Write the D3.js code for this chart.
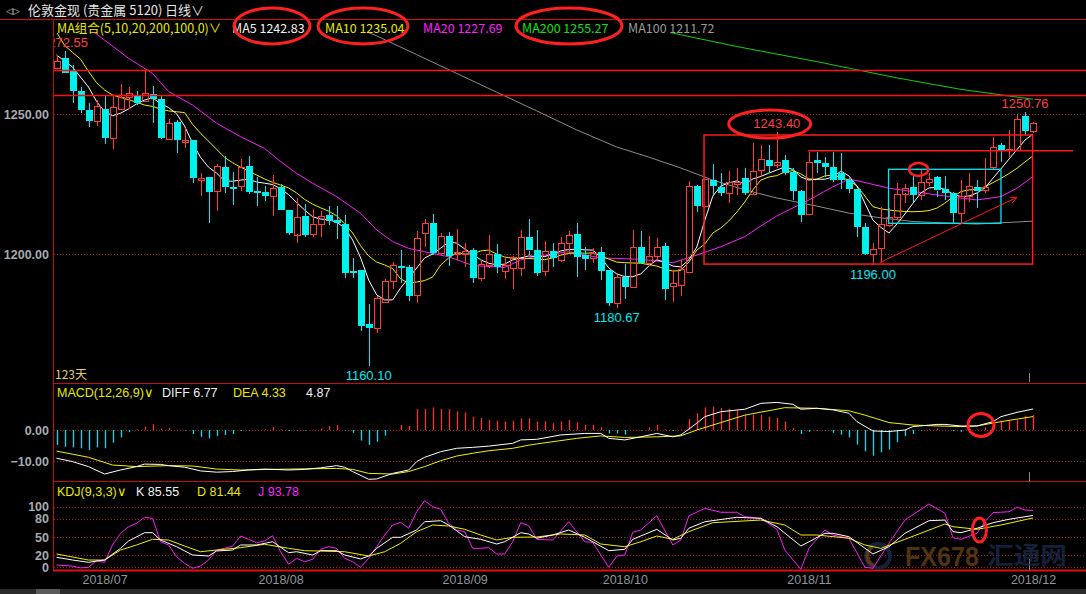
<!DOCTYPE html>
<html>
<head>
<meta charset="utf-8">
<script src="https://cdn.jsdelivr.net/npm/d3@7/dist/d3.min.js"></script>
<style>
body{margin:0;background:#000;}
svg{display:block;background:#000;}
text{font-family:"Liberation Sans",Arial,sans-serif;}
.cn{font-family:"Noto Sans CJK SC","Liberation Sans",sans-serif;}
</style>
</head>
<body>
<svg id="chart"></svg>
<script>
//daily candles, london gold
var opens=[1266.3,1270.1,1265.4,1258.2,1251.4,1247.6,1251.8,1241.2,1251.7,1256.0,1256.5,1254.4,1257.1,1255.4,1241.2,1247.2,1240.2,1240.7,1226.3,1227.5,1222.2,1231.1,1224.0,1224.2,1231.4,1222.5,1222.1,1220.8,1223.8,1215.7,1207.0,1213.7,1207.0,1210.6,1213.9,1212.1,1210.7,1193.9,1194.3,1175.1,1173.5,1183.0,1190.3,1195.7,1195.4,1185.1,1207.4,1211.0,1200.2,1206.4,1200.1,1200.2,1201.4,1191.3,1196.1,1200.0,1194.0,1194.9,1194.9,1206.0,1201.4,1194.0,1201.1,1197.6,1203.8,1207.1,1199.6,1198.5,1200.8,1194.3,1182.6,1191.9,1188.3,1202.6,1196.9,1199.3,1202.9,1188.3,1188.9,1193.7,1224.3,1217.1,1226.4,1224.0,1221.7,1225.0,1227.0,1221.7,1230.0,1233.6,1232.1,1233.6,1229.4,1222.6,1214.3,1233.6,1232.6,1231.2,1228.9,1226.4,1223.1,1209.5,1200.0,1202.0,1210.4,1213.1,1221.7,1223.8,1221.1,1225.6,1227.4,1223.2,1221.7,1214.5,1220.7,1223.8,1222.9,1231.0,1238.9,1236.9,1237.1,1249.3,1243.7]
var highs=[1271.1,1272.55,1267.5,1259.7,1254.0,1255.0,1256.4,1256.4,1260.7,1259.5,1258.3,1265.7,1260.0,1256.8,1248.2,1247.9,1244.9,1240.8,1228.8,1227.6,1232.1,1235.0,1229.3,1234.0,1235.0,1227.6,1224.3,1228.2,1225.0,1215.8,1220.1,1217.9,1216.0,1215.5,1217.1,1217.1,1213.9,1198.5,1194.3,1182.1,1185.0,1191.0,1197.1,1201.4,1196.1,1208.3,1212.4,1214.3,1207.6,1208.0,1208.9,1203.8,1202.0,1197.9,1206.8,1203.6,1199.0,1199.3,1208.6,1212.5,1208.6,1204.6,1204.0,1206.2,1208.3,1211.0,1202.4,1202.0,1202.4,1194.4,1192.5,1196.4,1208.6,1208.3,1206.4,1205.6,1203.8,1194.3,1197.9,1226.1,1224.5,1226.9,1232.1,1229.0,1229.8,1230.6,1230.6,1239.5,1238.9,1238.9,1243.4,1235.4,1230.6,1222.9,1236.5,1236.5,1234.7,1236.5,1236.0,1227.0,1223.2,1211.0,1203.8,1216.7,1216.3,1225.3,1225.0,1228.2,1230.2,1228.8,1227.9,1227.9,1222.3,1226.4,1229.0,1226.4,1234.2,1241.9,1239.5,1244.3,1250.0,1250.76,1247.3]
var lows=[1266.0,1264.5,1254.0,1250.5,1245.5,1245.7,1239.2,1237.4,1251.4,1251.7,1253.2,1254.2,1246.9,1241.2,1241.0,1236.2,1238.0,1225.5,1220.7,1211.2,1215.5,1221.9,1217.6,1222.6,1221.4,1217.2,1218.8,1213.7,1215.4,1206.8,1204.0,1206.0,1206.0,1206.2,1210.4,1205.2,1191.3,1191.3,1172.6,1160.1,1171.7,1182.4,1187.4,1189.7,1183.3,1182.6,1202.6,1199.6,1199.3,1195.7,1197.9,1195.3,1189.5,1190.5,1194.9,1193.1,1191.0,1187.4,1192.1,1199.6,1192.1,1192.2,1195.5,1197.3,1200.2,1191.7,1194.3,1196.7,1190.7,1181.4,1180.67,1183.9,1188.0,1196.4,1195.7,1197.9,1183.6,1183.0,1185.0,1193.5,1215.1,1216.9,1221.1,1220.7,1218.3,1221.1,1221.1,1221.5,1227.6,1229.0,1230.7,1228.2,1219.3,1211.5,1214.0,1228.8,1227.6,1225.8,1223.2,1221.7,1206.2,1199.6,1196.0,1196.9,1209.7,1212.1,1218.1,1218.7,1219.3,1224.3,1220.5,1219.3,1211.2,1211.0,1218.7,1216.3,1221.7,1230.0,1233.0,1234.7,1236.9,1242.5,1243.1]
var closes=[1268.8,1264.9,1258.3,1251.4,1247.6,1252.9,1241.5,1252.4,1256.1,1257.4,1254.0,1257.4,1255.2,1241.3,1246.8,1240.7,1240.8,1227.2,1227.1,1222.2,1231.3,1224.0,1223.3,1231.0,1222.1,1221.9,1220.8,1223.6,1215.5,1207.6,1213.3,1206.8,1210.7,1213.6,1211.8,1211.0,1193.3,1193.3,1174.4,1173.8,1184.2,1190.4,1196.0,1195.1,1185.1,1205.6,1211.0,1200.2,1206.4,1199.3,1200.7,1201.1,1191.3,1196.3,1200.0,1195.5,1196.1,1198.8,1206.0,1201.2,1193.3,1201.1,1198.5,1203.8,1206.7,1199.0,1198.2,1200.2,1194.0,1182.6,1191.9,1188.3,1202.6,1196.9,1199.4,1202.4,1187.4,1189.5,1194.5,1224.3,1217.1,1226.7,1224.4,1221.7,1225.6,1225.8,1221.7,1229.8,1233.8,1231.5,1233.0,1229.0,1222.6,1213.9,1233.0,1232.4,1231.2,1226.7,1226.4,1223.1,1209.5,1200.0,1201.7,1210.7,1213.1,1221.3,1223.7,1221.1,1225.6,1226.7,1222.6,1221.7,1214.5,1220.7,1224.3,1222.3,1224.0,1238.1,1236.8,1237.4,1248.1,1244.0,1246.7]

//moving averages
var ma5=[1271.1,1268.9,1266.8,1263.2,1259.6,1254.5,1250.9,1249.4,1250.3,1251.8,1253.6,1255.0,1255.8,1253.7,1252.3,1250.1,1245.7,1239.6,1234.5,1231.0,1228.9,1226.1,1226.0,1226.4,1226.7,1225.7,1225.3,1224.8,1223.3,1221.2,1218.4,1215.7,1213.3,1212.5,1212.2,1211.4,1209.3,1205.0,1198.6,1190.7,1185.4,1183.6,1183.6,1187.9,1191.4,1195.0,1198.6,1200.0,1202.1,1204.3,1203.9,1201.8,1200.0,1197.9,1196.7,1196.1,1196.4,1197.9,1198.6,1199.3,1199.1,1199.1,1200.0,1201.1,1201.6,1201.7,1201.5,1201.4,1198.9,1195.0,1192.9,1191.9,1191.9,1192.9,1195.7,1197.9,1197.1,1195.7,1195.4,1197.9,1202.5,1212.1,1220.7,1224.3,1225.4,1226.1,1225.0,1226.8,1227.7,1228.9,1230.0,1231.1,1230.2,1227.5,1226.4,1226.7,1226.7,1227.5,1229.6,1227.9,1224.3,1218.2,1212.1,1209.5,1207.5,1210.7,1214.3,1218.1,1221.8,1223.6,1223.8,1223.1,1221.4,1220.5,1220.7,1221.8,1223.6,1227.1,1230.4,1233.9,1237.3,1240.7,1242.83]
var ma10=[1279.3,1274.5,1272.0,1269.6,1265.2,1261.2,1258.6,1256.8,1255.9,1255.1,1254.2,1253.2,1252.7,1251.8,1251.1,1250.8,1250.5,1246.3,1243.1,1240.3,1237.4,1234.5,1232.6,1231.0,1229.7,1228.2,1226.8,1225.6,1224.6,1223.6,1221.8,1219.5,1217.8,1216.5,1215.3,1213.6,1210.8,1207.5,1202.9,1199.3,1197.1,1196.1,1194.8,1191.1,1189.6,1190.0,1190.5,1191.8,1196.1,1198.6,1200.4,1200.0,1200.0,1201.1,1201.4,1200.0,1198.9,1198.5,1198.5,1198.4,1198.2,1198.0,1198.6,1199.6,1200.2,1200.4,1200.3,1200.4,1199.3,1198.2,1197.1,1196.9,1196.8,1196.7,1196.2,1195.7,1194.6,1193.9,1194.1,1197.1,1201.4,1203.6,1207.5,1209.3,1211.8,1215.0,1218.6,1222.9,1226.4,1227.5,1228.0,1229.3,1229.8,1228.6,1226.8,1226.7,1227.9,1228.2,1227.3,1226.4,1224.3,1220.7,1216.9,1216.1,1215.7,1215.4,1215.2,1215.1,1215.2,1215.5,1216.4,1218.2,1220.4,1222.3,1222.9,1223.0,1224.0,1225.5,1227.0,1228.75,1230.6,1232.9,1235.04]
var ma20=[[0,1289.0],[3,1282.9],[6,1276.4],[9,1269.9],[12,1264.5],[14,1258.0],[17,1253.2],[20,1246.7],[23,1241.9],[26,1237.7],[28,1233.0],[30,1228.8],[32,1225.3],[35,1220.5],[38,1214.5],[40,1208.6],[42,1204.4],[44,1202.0],[46,1200.8],[49,1199.0],[52,1195.9],[56,1195.2],[58,1197.9],[60,1199.2],[64,1200.8],[68,1198.6],[73,1198.1],[77,1196.9],[80,1199.6],[83,1202.6],[86,1206.2],[88,1210.0],[90,1213.6],[94,1219.3],[97,1224.0],[99,1226.7],[100,1226.2],[104,1223.5],[108,1221.9],[112,1220.3],[115,1219.3],[118,1220.5],[120,1223.5],[122,1227.69]]
var ma100=[[35,1284.0],[40,1277.9],[45,1271.2],[50,1264.5],[55,1257.8],[60,1251.1],[65,1244.3],[70,1238.2],[74,1234.6],[78,1230.7],[82,1226.4],[86,1222.9],[90,1220.0],[95,1217.1],[99,1214.6],[103,1212.9],[107,1211.6],[111,1211.1],[115,1210.7],[122,1211.72]]
var ma200=[[72,1281.5],[77,1278.9],[85,1274.1],[95,1268.7],[105,1262.9],[113,1258.8],[122,1255.27]]

//macd
var diff=[[0,-9.1],[2,-10.2],[4,-11.8],[6,-14.2],[8,-12.9],[10,-11.8],[11,-11.0],[13,-11.1],[14,-11.5],[16,-12.0],[18,-13.2],[20,-13.6],[22,-13.4],[24,-12.9],[26,-12.6],[29,-12.9],[31,-12.7],[33,-12.2],[35,-11.5],[36,-12.0],[37,-13.4],[39,-15.9],[40,-15.8],[42,-14.0],[44,-12.9],[45,-10.2],[46,-8.8],[48,-7.0],[50,-5.9],[52,-5.6],[54,-5.2],[57,-4.3],[58,-3.2],[60,-3.0],[63,-1.6],[66,-1.1],[68,-1.1],[69,-2.7],[71,-3.2],[73,-2.2],[75,-1.1],[77,-2.2],[78,-1.6],[80,2.2],[81,4.3],[83,5.9],[86,6.7],[88,8.6],[90,8.9],[92,8.3],[93,6.7],[95,7.0],[97,6.5],[99,5.4],[100,2.7],[102,-0.3],[104,-0.5],[106,0],[107,1.1],[110,1.8],[111,1.8],[113,1.3],[115,1.3],[117,2.7],[118,4.3],[120,5.7],[122,6.77]]
var dea=[[0,-6.8],[4,-8.8],[7,-11.3],[10,-11.8],[14,-11.5],[17,-11.6],[20,-12.6],[23,-12.9],[27,-12.7],[32,-12.5],[35,-12.4],[37,-12.7],[39,-14.0],[42,-14.2],[44,-13.4],[46,-11.8],[48,-9.9],[50,-8.4],[52,-7.5],[54,-6.7],[57,-5.9],[59,-4.9],[60,-4.5],[65,-2.7],[68,-1.9],[71,-2.4],[75,-2.2],[78,-1.9],[80,0],[83,2.4],[86,4.8],[91,7.2],[95,7.0],[99,6.2],[101,4.8],[104,2.4],[107,1.6],[110,1.3],[113,1.1],[115,1.3],[118,2.7],[122,4.33]]
var macdBars=[-4.8,-5.4,-5.6,-5.9,-6.5,-5.6,-5.9,-4.1,-2.4,-0.7,0.2,1.1,1.9,0.5,0.6,0.1,-0.2,-1.3,-2.2,-2.7,-1.9,-1.6,-1.3,-0.3,-0.2,0.1,0.3,0.9,0.2,-0.3,-0.2,-0.2,0.1,0.5,1.3,1.6,-0.2,-0.9,-3.4,-4.8,-3.8,-1.8,0.1,1.6,1.3,6.7,6.8,7.3,6.8,6.7,6.0,5.7,4.3,3.9,3.2,3.0,2.7,3.0,3.8,3.8,2.7,2.8,2.2,2.7,3.3,2.5,1.7,1.7,0.9,-1.1,-1.1,-1.5,0.1,-0.2,0.9,1.7,0.2,-0.3,0.2,3.5,5.4,7.3,7.5,7.1,6.8,6.2,4.9,4.9,4.9,4.3,3.9,2.7,0.6,-1.3,-0.6,-0.2,-0.2,-0.9,-1.5,-2.4,-4.7,-6.9,-8.3,-7.2,-6.3,-3.9,-2.0,-1.3,-0.2,0.3,0.5,0.1,-0.4,-0.6,0.1,0.2,0.9,1.7,3.0,3.2,3.2,4.6,4.87]

//kdj
var kLine=[[0,16.5],[2,12],[4,8.3],[6,12],[8,31.3],[9,43.4],[11,57.1],[12,57.1],[13,45],[15,34],[17,20.3],[19,18.6],[20,26.9],[22,28.5],[23,36.8],[25,36.8],[27,42.2],[29,24.1],[30,25.7],[32,20.3],[33,27.4],[35,27.4],[36,20.3],[38,13.7],[39,18.6],[40,31.3],[42,49.5],[43,49.5],[45,61.6],[46,75.2],[48,76.9],[49,69.8],[51,50.5],[53,46.2],[55,38.4],[56,42.2],[58,57.1],[59,55],[60,48],[62,53.3],[64,61.6],[66,49.5],[69,27.4],[71,29.7],[72,46.2],[75,62.7],[77,45],[78,47.9],[79,64.4],[81,75.2],[85,82.5],[88,80.8],[90,67],[93,35.1],[96,56.1],[97,56.1],[99,50.5],[102,22],[104,34],[106,56.1],[109,76.9],[111,78],[112,58.8],[113,57.1],[115,64.4],[117,73.6],[119,79.2],[122,85.55]]
var dLine=[[0,22],[4,12],[6,12],[8,28.5],[10,36.8],[12,46.2],[14,45],[16,35.1],[18,25.7],[20,28.5],[23,32.4],[26,38],[29,31.3],[31,27.4],[33,26.9],[36,25.7],[39,18.6],[41,25.7],[43,39.6],[45,58.8],[47,69.8],[49,68.2],[51,62.7],[53,53.3],[55,45],[57,49.5],[60,50],[63,55],[66,53.3],[68,38.4],[71,34],[73,42.2],[75,51.6],[77,46.2],[79,58.8],[82,73.6],[88,78],[91,69.8],[93,53.3],[95,53.3],[99,47.9],[101,36.8],[103,31.3],[106,46.2],[111,71.5],[112,67],[115,62.7],[118,69.8],[122,81.44]]
var jLine=[[0,3.8],[2,2],[3,-1],[4,0],[5,11],[6,8],[7,36.8],[8,56],[9,67],[10,72.6],[11,82.5],[12,80.8],[13,42.2],[14,36.8],[15,17.5],[16,6.6],[17,-1.6],[18,2.1],[19,12],[20,28.5],[21,31.3],[22,35],[23,51.6],[24,46],[25,40.6],[26,43.4],[27,52],[28,25.7],[29,5],[30,14.8],[31,9.2],[32,13.2],[33,29.7],[34,34],[35,31.3],[36,14.8],[37,9.2],[38,0],[39,14.8],[40,34],[41,53.3],[42,69.8],[43,74.2],[44,64.4],[45,91.7],[46,110],[47,100],[48,95.7],[49,72.6],[50,61.6],[51,58.8],[52,31.3],[53,31.3],[54,32.4],[55,22],[56,22],[57,42.2],[58,73.6],[59,68.6],[60,46],[62,45],[64,75.2],[66,42.2],[67,41.2],[69,0],[70,18.6],[71,20.3],[72,57.8],[73,61.6],[75,85.1],[77,36.8],[78,45],[79,84.7],[81,97.3],[83,90.8],[85,90.8],[86,83.5],[88,80.8],[90,62.7],[91,28.5],[93,-3.3],[94,31.3],[96,61.6],[97,53.3],[99,47.9],[101,0],[102,-1.6],[104,39.6],[106,78],[109,104.5],[111,89.1],[112,48.8],[113,46.2],[115,56.1],[116,75.2],[117,90.1],[119,91.7],[120,99],[121,94.6],[122,93.78]]

//ticks and labels
var mainTicks=[1250,1200]
var macdTicks=[0,-10]
var kdjTicks=[100,80,50,20,0]
var monthIdx=[6,28,51,71,94,122]
var monthLabels=["2018/07","2018/08","2018/09","2018/10","2018/11","2018/12"]
var priceMarks=[{i:1,v:1272.55,t:"1272.55",hi:true,c:"#ff4040"},{i:39,v:1160.10,t:"1160.10",hi:false,c:"#00e8f0"},{i:70,v:1180.67,t:"1180.67",hi:false,c:"#00e8f0"},{i:90,v:1243.40,t:"1243.40",hi:true,c:"#ff4040"},{i:102,v:1196.00,t:"1196.00",hi:false,c:"#00e8f0"},{i:121,v:1250.76,t:"1250.76",hi:true,c:"#ff4040"}]

var RED="#ff3b3b",CYAN="#00f0f0",BORDER="#c01010",GRID="#b01818"
var screen={width:1086,height:594}

var svg=d3.select("#chart").attr("width",screen.width).attr("height",screen.height)
var defs=svg.append("defs")
var addClip=function(id,y0,y1){
    defs.append("clipPath").attr("id",id).append("rect")
        .attr("x",54).attr("y",y0).attr("width",screen.width-54).attr("height",y1-y0)
}
addClip("clipMain",33,382)
addClip("clipMacd",384,480)
addClip("clipKdj",482,570)

var x=d3.scaleLinear().domain([0,122]).range([56.5,1033])
var yMain=d3.scaleLinear().domain([1200,1250]).range([254,114])
var yMacd=d3.scaleLinear().domain([-10,0]).range([461,430])
var yKdj=d3.scaleLinear().domain([0,100]).range([567.3,506.7])
var px=function(i){return Math.round(x(i))+0.5}

//grid + borders
var drawFrame=function(){
    var g=svg.append("g")
    var dotted=mainTicks.map(yMain).concat(macdTicks.map(yMacd)).concat(kdjTicks.map(yKdj))
    g.selectAll(".grid").data(dotted).enter().append("line")
        .attr("x1",54).attr("x2",screen.width)
        .attr("y1",function(d){return Math.round(d)+0.5})
        .attr("y2",function(d){return Math.round(d)+0.5})
        .attr("stroke",GRID).attr("stroke-dasharray","1,2")
    g.append("line").attr("x1",0).attr("x2",screen.width).attr("y1",19.5).attr("y2",19.5).attr("stroke","#d01010")
    g.append("line").attr("x1",53.5).attr("x2",53.5).attr("y1",19).attr("y2",571).attr("stroke",BORDER)
    ;[383.5,481.5].forEach(function(y){
        g.append("line").attr("x1",53).attr("x2",screen.width).attr("y1",y).attr("y2",y).attr("stroke",BORDER)
    })
    g.append("line").attr("x1",53).attr("x2",screen.width).attr("y1",570.5).attr("y2",570.5).attr("stroke","#e01010").attr("stroke-width",2)
    //cursor ticks
    ;[[373,382],[472,481],[559,570]].forEach(function(s){
        g.append("line").attr("x1",px(121.5)).attr("x2",px(121.5)).attr("y1",s[0]).attr("y2",s[1]).attr("stroke","#8a8a8a")
    })
    //scroll bar
    svg.append("rect").attr("x",0).attr("y",589).attr("width",screen.width).attr("height",5).attr("fill","#2b2b2b")
    svg.append("rect").attr("x",36).attr("y",589).attr("width",24).attr("height",5).attr("fill","#5a5a5a")
}

//candles
var drawCandles=function(){
    var g=svg.append("g").attr("clip-path","url(#clipMain)").attr("shape-rendering","crispEdges")
    var idx=d3.range(closes.length)
    var up=function(i){return closes[i]>=opens[i]}
    var col=function(i){return up(i)?RED:CYAN}
    g.selectAll(".hi").data(idx).enter().append("line")
        .attr("x1",px).attr("x2",px)
        .attr("y1",function(i){return yMain(highs[i])})
        .attr("y2",function(i){return yMain(Math.max(opens[i],closes[i]))})
        .attr("stroke",col)
    g.selectAll(".lo").data(idx).enter().append("line")
        .attr("x1",px).attr("x2",px)
        .attr("y1",function(i){return yMain(Math.min(opens[i],closes[i]))})
        .attr("y2",function(i){return yMain(lows[i])})
        .attr("stroke",col)
    g.selectAll(".body").data(idx).enter().append("rect")
        .attr("x",function(i){return Math.round(x(i))-3+(up(i)?0.5:0)})
        .attr("width",function(i){return up(i)?6:7})
        .attr("y",function(i){return Math.round(yMain(Math.max(opens[i],closes[i])))+(up(i)?0.5:0)})
        .attr("height",function(i){return Math.max(1,Math.round(Math.abs(yMain(opens[i])-yMain(closes[i]))))})
        .attr("fill",function(i){return up(i)?"none":CYAN})
        .attr("stroke",function(i){return up(i)?RED:"none"})
}

var drawPath=function(g,data,xs,ys,color,w){
    var line=d3.line().x(function(d){return xs(d[0])}).y(function(d){return ys(d[1])})
    g.append("path").datum(data).attr("d",line).attr("fill","none").attr("stroke",color).attr("stroke-width",w||1)
}

var drawAverages=function(){
    var g=svg.append("g").attr("clip-path","url(#clipMain)")
    var pairs=function(arr){return arr.map(function(v,i){return [i,v]})}
    drawPath(g,ma100,x,yMain,"#8c8c8c")
    drawPath(g,ma200,x,yMain,"#10d010")
    drawPath(g,ma20,x,yMain,"#ff1cff")
    drawPath(g,pairs(ma10),x,yMain,"#f0f000")
    drawPath(g,pairs(ma5),x,yMain,"#ffffff")
}

var drawMacd=function(){
    var g=svg.append("g").attr("clip-path","url(#clipMacd)")
    g.selectAll(".bar").data(macdBars).enter().append("line")
        .attr("x1",function(d,i){return px(i)}).attr("x2",function(d,i){return px(i)})
        .attr("y1",yMacd(0)).attr("y2",function(d){return yMacd(d)})
        .attr("stroke",function(d){return d>=0?"#ff3030":"#00e0f0"}).attr("stroke-width",1.3)
    drawPath(g,dea,x,yMacd,"#f0f000")
    drawPath(g,diff,x,yMacd,"#ffffff")
}

var drawKdj=function(){
    var g=svg.append("g").attr("clip-path","url(#clipKdj)")
    drawPath(g,jLine,x,yKdj,"#ff1cff")
    drawPath(g,dLine,x,yKdj,"#f0f000")
    drawPath(g,kLine,x,yKdj,"#ffffff")
}

var createAxes=function(){
    var fmt2=d3.format(".2f")
    var put=function(scale,ticks,f){
        var a=svg.append("g").attr("transform","translate(52,0)")
            .call(d3.axisLeft(scale).tickValues(ticks).tickFormat(f).tickSize(0).tickPadding(3))
        a.select(".domain").remove()
        a.selectAll("text").attr("fill","#a3abb3").attr("font-size",12.5)
            .attr("font-family","Liberation Sans, Arial, sans-serif").attr("font-weight","bold")
    }
    put(yMain,mainTicks,fmt2)
    put(yMacd,macdTicks,fmt2)
    put(yKdj,kdjTicks,d3.format("d"))
    var xa=svg.append("g").attr("transform","translate(0,572)")
        .call(d3.axisBottom(x).tickValues(monthIdx).tickFormat(function(d,i){return monthLabels[i]}).tickSize(0).tickPadding(3))
    xa.select(".domain").remove()
    xa.selectAll("text").attr("fill","#8e969e").attr("font-size",12.5).attr("font-family","Liberation Sans, Arial, sans-serif")
}

var createLabels=function(){
    var t=svg.append("g")
    t.append("text").text("◁▷").attr("x",6).attr("y",14).attr("fill","#c8c8c8").attr("font-size",9)
    t.append("text").classed("cn",true).text("伦敦金现 (贵金属 5120)").attr("x",28).attr("y",15).attr("fill","#e6e6e6").attr("font-size",13)
    t.append("text").classed("cn",true).text("日线∨").attr("x",165).attr("y",15).attr("fill","#e6e6e6").attr("font-size",13)
    var row=[["MA组合(5,10,20,200,100,0)∨",57,"#e8e800"],["MA5 1242.83",232,"#f0f0f0"],["MA10 1235.04",325,"#e8e800"],["MA20 1227.69",423,"#ff20ff"],["MA200 1255.27",522,"#10e010"],["MA100 1211.72",628,"#9a9a9a"]]
    row.forEach(function(r){
        t.append("text").classed("cn",true).text(r[0]).attr("x",r[1]).attr("y",33).attr("fill",r[2]).attr("font-size",12.5)
    })
    var mrow=[["MACD(12,26,9)∨",57,"#e8e800"],["DIFF 6.77",162,"#f0f0f0"],["DEA 4.33",233,"#e8e800"],["4.87",306,"#f0f0f0"]]
    mrow.forEach(function(r){
        t.append("text").text(r[0]).attr("x",r[1]).attr("y",397).attr("fill",r[2]).attr("font-size",12.5)
    })
    var krow=[["KDJ(9,3,3)∨",57,"#e8e800"],["K 85.55",136,"#f0f0f0"],["D 81.44",197,"#e8e800"],["J 93.78",258,"#ff20ff"]]
    krow.forEach(function(r){
        t.append("text").text(r[0]).attr("x",r[1]).attr("y",496).attr("fill",r[2]).attr("font-size",12.5)
    })
    t.append("text").classed("cn",true).text("123天").attr("x",55).attr("y",379).attr("fill","#e0cc70").attr("font-size",12)

    //high/low price marks
    var pm=svg.append("g").attr("clip-path","url(#clipMain)")
    pm.selectAll("text").data(priceMarks).enter().append("text")
        .text(function(d){return d.t})
        .attr("x",function(d){return x(d.i)})
        .attr("y",function(d){return d.hi?yMain(d.v)-4:yMain(d.v)+14})
        .attr("text-anchor","middle").attr("fill",function(d){return d.c}).attr("font-size",13)
}

//hand drawn marks on top of the chart
var createNotes=function(){
    var g=svg.append("g").attr("fill","none")
    var main=g.append("g").attr("clip-path","url(#clipMain)")
    ;[1265.7,1256.8].forEach(function(v){
        main.append("line").attr("x1",54).attr("x2",screen.width)
            .attr("y1",Math.round(yMain(v))+0.5).attr("y2",Math.round(yMain(v))+0.5).attr("stroke","#ff1010").attr("stroke-width",1.5)
    })
    main.append("rect").attr("x",x(80.9)).attr("y",yMain(1242.5))
        .attr("width",x(121.95)-x(80.9)).attr("height",yMain(1196.4)-yMain(1242.5))
        .attr("stroke","#ff1a1a").attr("stroke-width",1.5)
    main.append("line").attr("x1",x(93.9)).attr("x2",x(127)).attr("y1",yMain(1236.9)).attr("y2",yMain(1236.9))
        .attr("stroke","#ff1a1a").attr("stroke-width",1.5)
    main.append("rect").attr("x",x(103.95)).attr("y",yMain(1230.25))
        .attr("width",x(118)-x(103.95)).attr("height",yMain(1210.96)-yMain(1230.25))
        .attr("stroke","#00e8f0").attr("stroke-width",1.3)
    var a0=[x(102.9),yMain(1197.0)],a1=[x(120),yMain(1220.25)]
    main.append("line").attr("x1",a0[0]).attr("y1",a0[1]).attr("x2",a1[0]).attr("y2",a1[1]).attr("stroke","#ff1a1a")
    main.append("polyline").attr("points",[[a1[0]-7,a1[1]],a1,[a1[0]-5,a1[1]+6]].join(" ")).attr("stroke","#ff1a1a")

    var ring=function(cx,cy,rx,ry,w){
        g.append("ellipse").attr("cx",cx).attr("cy",cy).attr("rx",rx).attr("ry",ry)
            .attr("stroke","#ff2020").attr("stroke-width",w)
    }
    ring(272,26,38,18,3)
    ring(363,26,45,18,3)
    ring(569,26,53,18,3)
    ring(x(89.1),yMain(1246.4),41,14,3)
    ring(x(107.7),yMain(1230.2),9.5,6.5,2.5)
    ring(x(115.5),yMacd(1.6),13,11.5,3)
    ring(x(115.3),yKdj(61.5),7,12,3)
}

var createWatermark=function(){
    var w=svg.append("g").attr("opacity",0.75)
    w.append("circle").attr("cx",878).attr("cy",556).attr("r",12).attr("fill","none").attr("stroke","#1b2d4c").attr("stroke-width",4)
    w.append("path").attr("d","M872,547 A11,11 0 0,0 874,566").attr("fill","none").attr("stroke","#7a4a1c").attr("stroke-width",4)
    w.append("text").text("FX678").attr("x",905).attr("y",566).attr("font-size",28).attr("font-weight","bold")
        .attr("textLength",74).attr("lengthAdjust","spacingAndGlyphs").attr("fill","#6a4418")
    w.append("text").classed("cn",true).text("汇通网").attr("x",987).attr("y",564).attr("font-size",24).attr("font-weight","bold")
        .attr("textLength",80).attr("lengthAdjust","spacingAndGlyphs").attr("fill","#1b2d4c")
}

drawFrame()
createWatermark()
drawAverages()
drawCandles()
drawMacd()
drawKdj()
createAxes()
createLabels()
createNotes()
</script>
</body>
</html>
